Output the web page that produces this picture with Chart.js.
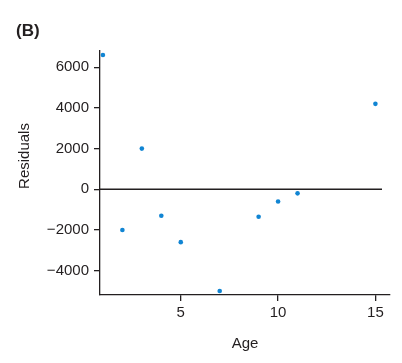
<!DOCTYPE html>
<html>
<head>
<meta charset="utf-8">
<script src="https://cdn.jsdelivr.net/npm/chart.js@4/dist/chart.umd.min.js"></script>
<style>
  html, body { margin: 0; padding: 0; background: #fff; }
  #wrap { width: 402px; height: 363px; position: relative; }
</style>
</head>
<body>
<div id="wrap"><canvas id="resid"></canvas></div>
<script>
var ages = [1, 2, 3, 4, 5, 7, 9, 10, 11, 15];
var residuals = [6600, -2000, 2000, -1300, -2600, -5000, -1350, -600, -200, 4200];
var xTicks = [5, 10, 15];
var yTicks = [-4000, -2000, 0, 2000, 4000, 6000];
var panelLabel = "(B)";
var xTitle = "Age";
var yTitle = "Residuals";

var ink = "#231f20";
var font = "'Liberation Sans', Arial, sans-serif";

var points = [];
for (var i = 0; i < ages.length; i++) {
  points.push({ x: ages[i], y: residuals[i] });
}

// panel letter, rotated y title and the zero reference line
var labelsPlugin = {
  id: "labels",
  beforeDatasetsDraw: function(chart) {
    var c = chart.ctx;
    var a = chart.chartArea;
    var y0 = chart.scales.y.getPixelForValue(0);
    c.save();
    c.strokeStyle = ink;
    c.lineWidth = 1.3;
    c.beginPath();
    c.moveTo(a.left, y0);
    c.lineTo(a.right - 8, y0);
    c.stroke();
    c.restore();
  },
  afterDraw: function(chart) {
    var c = chart.ctx;
    c.save();
    c.fillStyle = ink;
    c.font = "bold 17px " + font;
    c.textBaseline = "middle";
    c.textAlign = "left";
    c.fillText(panelLabel, 16, 31);
    c.translate(25, 156);
    c.rotate(-Math.PI / 2);
    c.font = "15px " + font;
    c.textAlign = "center";
    c.fillText(yTitle, 0, 0);
    c.restore();
  }
};

new Chart(document.getElementById("resid"), {
  type: "scatter",
  data: {
    datasets: [{
      data: points,
      backgroundColor: "#1185d3",
      borderColor: "#1185d3",
      pointRadius: 2.3,
      pointHoverRadius: 2.3,
      borderWidth: 0
    }]
  },
  options: {
    responsive: true,
    maintainAspectRatio: false,
    animation: false,
    layout: { padding: { left: 0, right: 12, top: 51, bottom: 0 } },
    plugins: { legend: { display: false }, tooltip: { enabled: false } },
    scales: {
      x: {
        type: "linear",
        min: 0.85,
        max: 15.75,
        afterFit: function(s) { s.height = 68; },
        afterBuildTicks: function(s) { s.ticks = xTicks.map(function(v) { return { value: v }; }); },
        border: { color: ink, width: 1.3 },
        grid: { drawOnChartArea: false, color: ink, tickColor: ink, tickLength: 6, lineWidth: 1.3 },
        ticks: { color: ink, font: { family: font, size: 15 }, padding: 3 },
        title: { display: true, text: xTitle, color: ink, font: { family: font, size: 15 }, padding: { top: 0, bottom: 10 } }
      },
      y: {
        min: -5200,
        max: 6800,
        afterFit: function(s) { s.width = 100; },
        afterBuildTicks: function(s) { s.ticks = yTicks.map(function(v) { return { value: v }; }); },
        border: { color: ink, width: 1.3 },
        grid: { drawOnChartArea: false, color: ink, tickColor: ink, tickLength: 6, lineWidth: 1.3 },
        ticks: {
          color: ink,
          font: { family: font, size: 15 },
          padding: 5,
          callback: function(v) { return v < 0 ? "\u2212" + Math.abs(v) : String(v); }
        }
      }
    }
  },
  plugins: [labelsPlugin]
});
</script>
</body>
</html>
